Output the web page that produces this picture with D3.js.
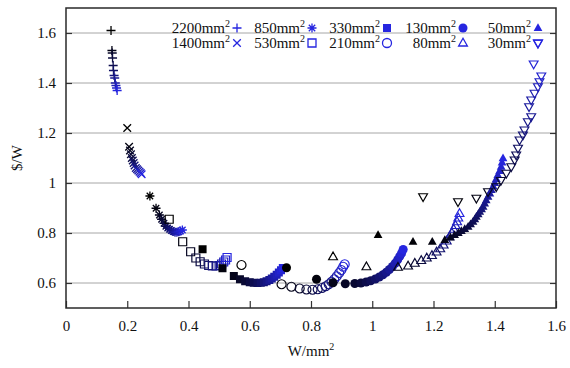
<!DOCTYPE html>
<html>
<head>
<meta charset="utf-8">
<script src="https://cdn.jsdelivr.net/npm/d3@7"></script>
</head>
<body style="margin:0">
<script>
// conductor sizes (mm^2) and their markers
const sizes = ["2200", "1400", "850", "530", "330", "210", "130", "80", "50", "30"];
const markers = ["plus", "cross", "star", "square", "squareFill", "circle", "circleFill", "triangle", "triangleFill", "triangleDown"];

const xTicks = [0, 0.2, 0.4, 0.6, 0.8, 1, 1.2, 1.4, 1.6];
const yTicks = [0.6, 0.8, 1, 1.2, 1.4, 1.6];

// W/mm^2 and $/W per size
const x2200 = [0.147, 0.150, 0.151, 0.152, 0.154, 0.155, 0.157, 0.159, 0.161, 0.163, 0.165, 0.167];
const y2200 = [1.61, 1.53, 1.52, 1.50, 1.47, 1.45, 1.43, 1.42, 1.40, 1.39, 1.38, 1.37];

const x1400 = [0.200, 0.206, 0.209, 0.212, 0.215, 0.218, 0.221, 0.224, 0.228, 0.232, 0.236, 0.240, 0.244, 0.247];
const y1400 = [1.22, 1.145, 1.13, 1.115, 1.10, 1.09, 1.08, 1.07, 1.06, 1.055, 1.05, 1.045, 1.04, 1.035];

const x850 = [0.274, 0.294, 0.305, 0.312, 0.320, 0.326, 0.332, 0.338, 0.344, 0.350, 0.356, 0.362, 0.368, 0.374, 0.380];
const y850 = [0.948, 0.899, 0.872, 0.855, 0.839, 0.827, 0.82, 0.815, 0.81, 0.806, 0.803, 0.803, 0.805, 0.808, 0.812];

const x530 = [0.337, 0.381, 0.407, 0.424, 0.438, 0.452, 0.466, 0.478, 0.490, 0.500, 0.508, 0.515, 0.521, 0.526];
const y530 = [0.855, 0.765, 0.725, 0.700, 0.685, 0.676, 0.670, 0.668, 0.668, 0.670, 0.676, 0.684, 0.692, 0.702];

const x330 = [0.446, 0.511, 0.548, 0.568, 0.585, 0.600, 0.613, 0.625, 0.636, 0.646, 0.655, 0.664, 0.672, 0.680, 0.688, 0.695, 0.702, 0.708];
const y330 = [0.735, 0.659, 0.628, 0.615, 0.607, 0.603, 0.601, 0.600, 0.601, 0.603, 0.607, 0.612, 0.618, 0.625, 0.633, 0.642, 0.651, 0.660];

const x210 = [0.573, 0.704, 0.736, 0.763, 0.785, 0.805, 0.822, 0.836, 0.848, 0.858, 0.867, 0.876, 0.884, 0.892, 0.899, 0.905, 0.910];
const y210 = [0.672, 0.595, 0.585, 0.578, 0.574, 0.573, 0.575, 0.580, 0.587, 0.595, 0.605, 0.615, 0.627, 0.640, 0.652, 0.665, 0.675];

const x130 = [0.720, 0.818, 0.872, 0.912, 0.943, 0.963, 0.980, 0.995, 1.010, 1.023, 1.035, 1.046, 1.056, 1.066, 1.075, 1.083, 1.090, 1.096, 1.101];
const y130 = [0.661, 0.615, 0.601, 0.597, 0.598, 0.600, 0.604, 0.609, 0.616, 0.624, 0.633, 0.643, 0.654, 0.666, 0.679, 0.693, 0.707, 0.720, 0.734];

const x80 = [0.872, 0.981, 1.084, 1.117, 1.139, 1.160, 1.178, 1.195, 1.210, 1.222, 1.233, 1.243, 1.252, 1.260, 1.266, 1.272, 1.277, 1.281, 1.285];
const y80 = [0.705, 0.665, 0.663, 0.668, 0.679, 0.690, 0.700, 0.710, 0.724, 0.737, 0.752, 0.768, 0.785, 0.800, 0.815, 0.830, 0.845, 0.860, 0.878];

const x50 = [1.019, 1.133, 1.196, 1.237, 1.255, 1.269, 1.281, 1.291, 1.302, 1.313, 1.321, 1.329, 1.335, 1.340, 1.346, 1.351, 1.357, 1.362, 1.367, 1.372, 1.378, 1.384, 1.389, 1.395, 1.400, 1.405, 1.410, 1.416, 1.421, 1.424, 1.427];
const y50 = [0.792, 0.765, 0.765, 0.772, 0.782, 0.792, 0.800, 0.808, 0.816, 0.825, 0.835, 0.845, 0.855, 0.865, 0.875, 0.885, 0.895, 0.905, 0.918, 0.931, 0.945, 0.958, 0.972, 0.986, 1.000, 1.016, 1.032, 1.048, 1.065, 1.082, 1.099];

const x30 = [1.166, 1.280, 1.340, 1.378, 1.405, 1.420, 1.438, 1.454, 1.465, 1.470, 1.476, 1.481, 1.492, 1.497, 1.508, 1.519, 1.512, 1.519, 1.530, 1.541, 1.546, 1.552, 1.527, 1.541];
const y30 = [0.945, 0.925, 0.939, 0.965, 0.985, 1.010, 1.039, 1.065, 1.092, 1.112, 1.139, 1.172, 1.192, 1.212, 1.245, 1.265, 1.305, 1.332, 1.359, 1.385, 1.405, 1.428, 1.476, 1.559];

const xs = [x2200, x1400, x850, x530, x330, x210, x130, x80, x50, x30];
const ys = [y2200, y1400, y850, y530, y330, y210, y130, y80, y50, y30];

const width = 570;
const height = 368;
const margin = { top: 8, right: 14, bottom: 60, left: 66 };
const serif = "Liberation Serif";

const svg = d3.select("body").append("svg")
  .attr("width", width)
  .attr("height", height);

const x = d3.scaleLinear().domain([0, 1.6]).range([margin.left, width - margin.right]);
const y = d3.scaleLinear().domain([0.5, 1.7]).range([height - margin.bottom, margin.top]);

const blue = "#2626e0";
const shade = d3.interpolateRgb("#000000", blue);

// every label goes through here so the serif face sticks
const label = (sel, size) => sel
  .attr("font-family", serif)
  .attr("font-size", size)
  .style("font-family", serif)
  .style("font-size", size + "px")
  .attr("fill", "#111");

// marker outlines, centred on 0,0
const markerPath = (type) => {
  switch (type) {
    case "plus": return "M-4.5,0H4.5M0,-4.5V4.5";
    case "cross": return "M-3.8,-3.8L3.8,3.8M-3.8,3.8L3.8,-3.8";
    case "star": return "M-4.5,0H4.5M0,-4.5V4.5M-3.2,-3.2L3.2,3.2M-3.2,3.2L3.2,-3.2";
    case "square":
    case "squareFill": return "M-4,-4H4V4H-4Z";
    case "circle":
    case "circleFill": return d3.symbol(d3.symbolCircle, 64)();
    case "triangle":
    case "triangleFill": return "M0,-4.8L4.4,3L-4.4,3Z";
    case "triangleDown": return "M0,4.8L4.4,-3L-4.4,-3Z";
  }
};
const isFilled = t => t.endsWith("Fill");
const isLine = t => t === "plus" || t === "cross" || t === "star";

// grid
svg.append("g")
  .selectAll("line")
  .data(yTicks)
  .join("line")
  .attr("x1", margin.left)
  .attr("x2", width - margin.right)
  .attr("y1", d => y(d))
  .attr("y2", d => y(d))
  .attr("stroke", "#a6a6a6")
  .attr("stroke-width", 1);

// axes
const xAxis = svg.append("g")
  .attr("transform", `translate(0,${height - margin.bottom})`)
  .call(d3.axisBottom(x).tickValues(xTicks).tickFormat(d => String(d)).tickSizeInner(-7).tickSizeOuter(0).tickPadding(12));
const yAxis = svg.append("g")
  .attr("transform", `translate(${margin.left},0)`)
  .call(d3.axisLeft(y).tickValues(yTicks).tickFormat(d => String(d)).tickSizeInner(-6).tickSizeOuter(0).tickPadding(10));
const yAxisR = svg.append("g")
  .attr("transform", `translate(${width - margin.right},0)`)
  .call(d3.axisRight(y).tickValues(yTicks).tickFormat("").tickSizeInner(-6).tickSizeOuter(0));

[xAxis, yAxis, yAxisR].forEach(g => {
  g.attr("font-family", serif).attr("font-size", 15);
  g.select(".domain").remove();
  g.selectAll(".tick line").attr("stroke", "#333").attr("stroke-width", 1.2);
  label(g.selectAll(".tick text"), 15);
});

svg.append("rect")
  .attr("x", margin.left)
  .attr("y", margin.top)
  .attr("width", width - margin.left - margin.right)
  .attr("height", height - margin.top - margin.bottom)
  .attr("fill", "none")
  .attr("stroke", "#2a2a2a")
  .attr("stroke-width", 1.5);

// points, shading from black (first) to blue (last)
sizes.forEach((s, k) => {
  const type = markers[k];
  const pts = xs[k].map((v, i) => ({ x: v, y: ys[k][i], t: i / (xs[k].length - 1) }));
  svg.append("g")
    .selectAll("path")
    .data(pts)
    .join("path")
    .attr("transform", d => `translate(${x(d.x)},${y(d.y)})`)
    .attr("d", markerPath(type))
    .attr("fill", d => isFilled(type) ? shade(d.t) : "none")
    .attr("stroke", d => isFilled(type) ? "none" : shade(d.t))
    .attr("stroke-width", isLine(type) ? 1.3 : 1.2);
});

// legend
const legendCols = [237, 312, 387, 463, 538];
const legendRows = [28, 43];
sizes.forEach((s, k) => {
  const cx = legendCols[Math.floor(k / 2)];
  const cy = legendRows[k % 2];
  const type = markers[k];
  const t = label(svg.append("text"), 15)
    .attr("x", cx - 7)
    .attr("y", cy + 5)
    .attr("text-anchor", "end");
  label(t.append("tspan"), 15).text(s + "mm");
  label(t.append("tspan"), 10).attr("dy", -6).text("2");
  svg.append("path")
    .attr("transform", `translate(${cx},${cy})`)
    .attr("d", markerPath(type))
    .attr("fill", isFilled(type) ? blue : "none")
    .attr("stroke", isFilled(type) ? "none" : blue)
    .attr("stroke-width", 1.3);
});

// axis titles
const xt = label(svg.append("text"), 15)
  .attr("x", (margin.left + width - margin.right) / 2)
  .attr("y", 356)
  .attr("text-anchor", "middle");
label(xt.append("tspan"), 15).text("W/mm");
label(xt.append("tspan"), 10).attr("dy", -6).text("2");

label(svg.append("text"), 15)
  .attr("transform", `translate(22,${(margin.top + height - margin.bottom) / 2}) rotate(-90)`)
  .attr("text-anchor", "middle")
  .text("$/W");
</script>
</body>
</html>
